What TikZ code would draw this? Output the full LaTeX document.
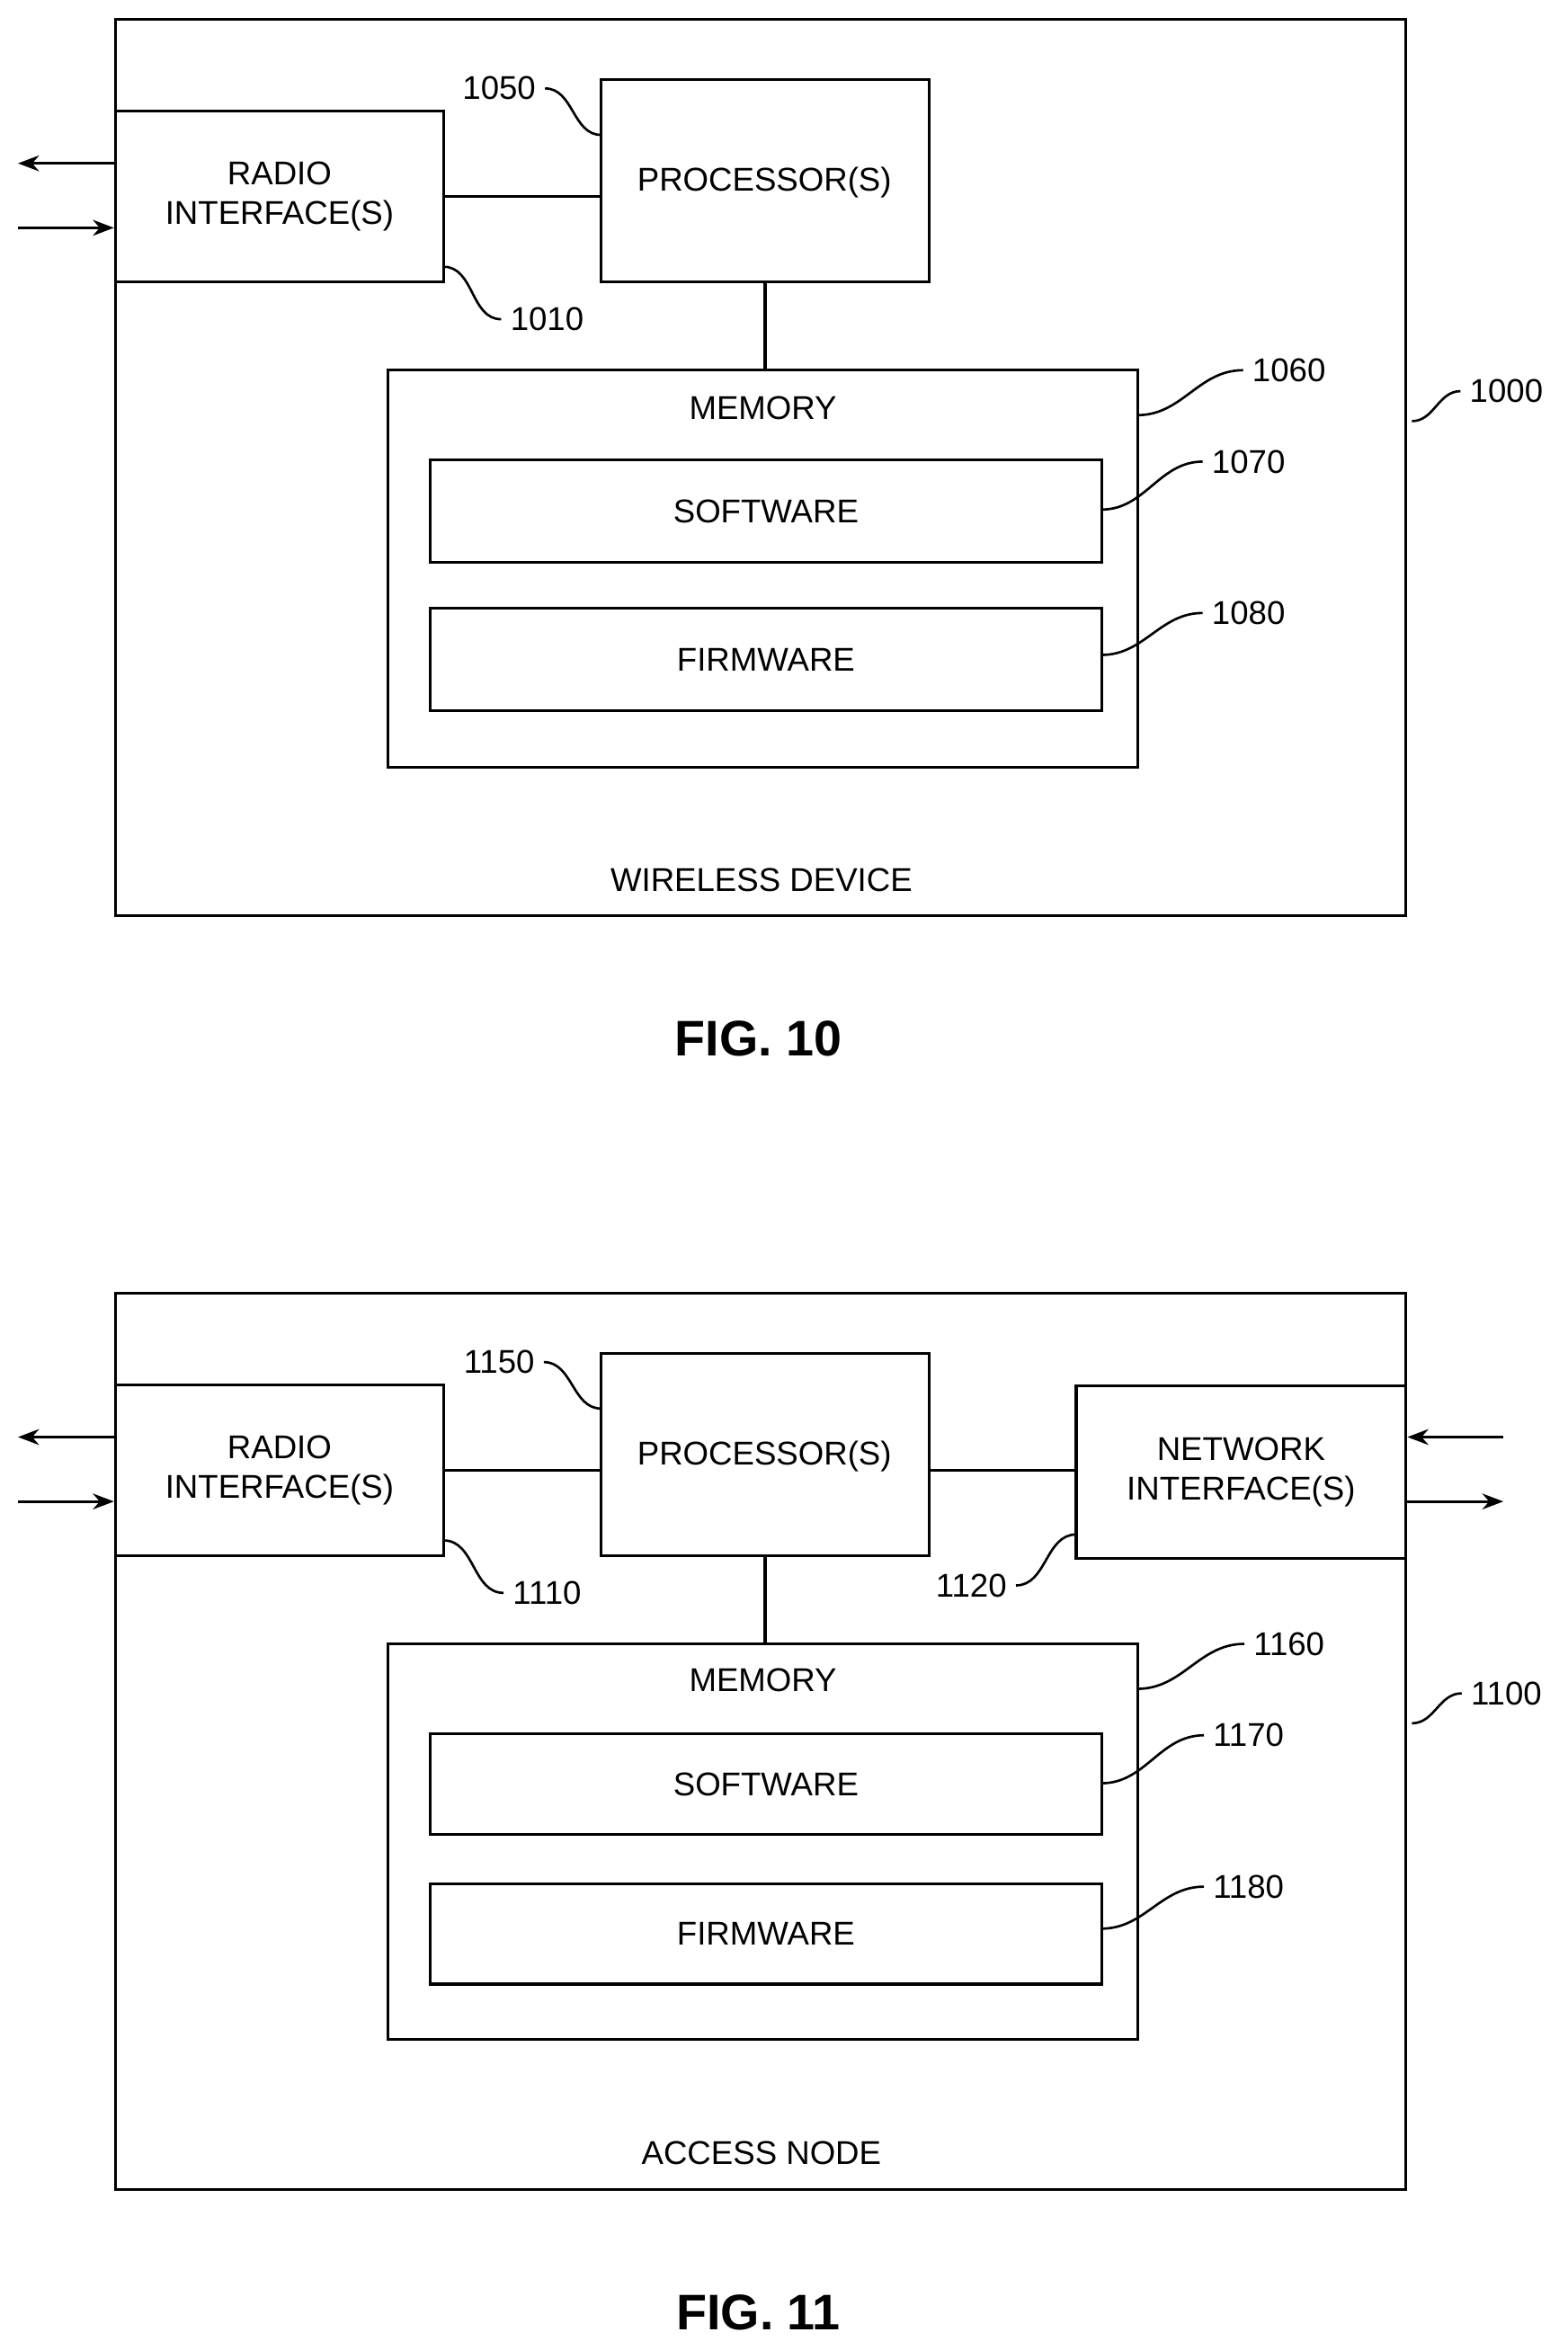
\documentclass[tikz,border=0pt]{standalone}
\usepackage{fontspec}
\setmainfont{Liberation Sans}
\usetikzlibrary{arrows.meta}
\tikzset{
  box/.style={draw, line width=1.1pt, align=center, inner sep=0pt},
  lbl/.style={font=\fontsize{12.5}{15}\selectfont},
  lead/.style={line width=0.9pt},
  sig/.style={line width=1.1pt, -{Stealth[length=8pt,width=6pt]}},
  link/.style={line width=1.1pt}
}
\newcommand{\bx}[6]{% name, x1, y1, x2, y2, text
  \node[box, lbl, minimum width={(#4-#2)*0.02cm}, minimum height={(#5-#3)*0.02cm}]
    (#1) at ({(#2+#4)/2},{(#3+#5)/2}) {#6};}
\begin{document}
\begin{tikzpicture}[x=0.02cm,y=-0.02cm]
\useasboundingbox (0,0) rectangle (1046,1568);
% FIG. 10
\bx{wd}{77}{13}{938}{611}{}
\bx{radio}{77}{74}{296}{188}{RADIO\\INTERFACE(S)}
\bx{proc}{401}{53}{620}{188}{}
\node[lbl] (proct) at (510,122) {PROCESSOR(S)};
\bx{mem}{259}{247}{759}{512}{}
\node[lbl] (memt) at (509,272) {MEMORY};
\bx{sw}{287}{307}{735}{375}{SOFTWARE}
\bx{fw}{287}{406}{735}{474}{FIRMWARE}
\node[lbl] (wdt) at (508,587) {WIRELESS DEVICE};
\node[font=\bfseries\fontsize{19}{22}\selectfont] (f10) at (506,693) {FIG. 10};
\draw[link] (radio.east |- 0,131) -- (proc.west |- 0,131);
\draw[link] (proc.south) -- (mem.north -| proc.south);
\coordinate (o1) at (12,109); \coordinate (i1) at (12,152);
\draw[sig] (radio.west |- o1) -- (o1);
\draw[sig] (i1) -- (radio.west |- i1);
\node[lbl] (l1050) at (333,59) {1050};
\node[lbl] (l1010) at (365,213) {1010};
\node[lbl] (l1060) at (860,247) {1060};
\node[lbl] (l1070) at (833,308) {1070};
\node[lbl] (l1080) at (833,409) {1080};
\node[lbl] (l1000) at (1005,261) {1000};
\draw[lead] (l1050.east) to[out=0,in=180] (401,90);
\draw[lead] (296,178) to[out=0,in=180] (l1010.west);
\draw[lead] (759,277) to[out=0,in=180] (l1060.west);
\draw[lead] (735,340) to[out=0,in=180] (l1070.west);
\draw[lead] (735,437) to[out=0,in=180] (l1080.west);
\draw[lead] (942,281) to[out=0,in=180] (l1000.west);
% FIG. 11
\begin{scope}[yshift=-17cm]
\bx{an}{77}{13}{938}{611}{}
\bx{radioB}{77}{74}{296}{188}{RADIO\\INTERFACE(S)}
\bx{procB}{401}{53}{620}{188}{}
\node[lbl] (procBt) at (510,122) {PROCESSOR(S)};
\bx{net}{718}{75}{938}{190}{NETWORK\\INTERFACE(S)}
\bx{memB}{259}{247}{759}{511}{}
\node[lbl] (memBt) at (509,271) {MEMORY};
\bx{swB}{287}{307}{735}{374}{SOFTWARE}
\bx{fwB}{287}{407}{735}{474}{FIRMWARE}
\node[lbl] (ant) at (508,587) {ACCESS NODE};
\node[font=\bfseries\fontsize{19}{22}\selectfont] (f11) at (506,693) {FIG. 11};
\draw[link] (radioB.east |- 0,131) -- (procB.west |- 0,131);
\draw[link] (procB.east |- 0,131) -- (net.west |- 0,131);
\draw[link] (procB.south) -- (memB.north -| procB.south);
\coordinate (o2) at (12,109); \coordinate (i2) at (12,152);
\coordinate (i3) at (1003,109); \coordinate (o3) at (1003,152);
\draw[sig] (radioB.west |- o2) -- (o2);
\draw[sig] (i2) -- (radioB.west |- i2);
\draw[sig] (i3) -- (net.east |- i3);
\draw[sig] (net.east |- o3) -- (o3);
\node[lbl] (l1150) at (333,59) {1150};
\node[lbl] (l1110) at (365,213) {1110};
\node[lbl] (l1120) at (648,208) {1120};
\node[lbl] (l1160) at (860,247) {1160};
\node[lbl] (l1170) at (833,308) {1170};
\node[lbl] (l1180) at (833,409) {1180};
\node[lbl] (l1100) at (1005,280) {1100};
\draw[lead] (l1150.east) to[out=0,in=180] (401,90);
\draw[lead] (296,178) to[out=0,in=180] (l1110.west);
\draw[lead] (718,174) to[out=180,in=0] (l1120.east);
\draw[lead] (759,277) to[out=0,in=180] (l1160.west);
\draw[lead] (735,340) to[out=0,in=180] (l1170.west);
\draw[lead] (735,437) to[out=0,in=180] (l1180.west);
\draw[lead] (942,300) to[out=0,in=180] (l1100.west);
\end{scope}
\end{tikzpicture}
\end{document}
